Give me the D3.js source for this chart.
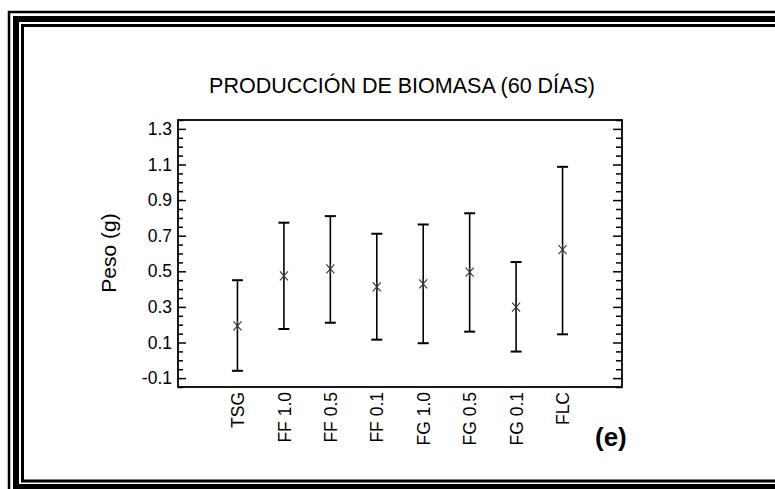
<!DOCTYPE html>
<html>
<head>
<meta charset="utf-8">
<script src="https://cdn.jsdelivr.net/npm/d3@7"></script>
<style>
  body { margin: 0; background: #fff; }
  svg { display: block; font-family: "Liberation Sans", Arial, sans-serif; }
</style>
</head>
<body>
<svg id="chart" width="775" height="489"></svg>
<script>
// data
const categories = ["TSG", "FF 1.0", "FF 0.5", "FF 0.1", "FG 1.0", "FG 0.5", "FG 0.1", "FLC"];
const means = [0.194, 0.474, 0.513, 0.412, 0.429, 0.495, 0.299, 0.622];
const lower = [-0.059, 0.176, 0.211, 0.116, 0.096, 0.161, 0.049, 0.146];
const upper = [0.450, 0.773, 0.810, 0.711, 0.763, 0.826, 0.552, 1.087];
const yTicks = [-0.1, 0.1, 0.3, 0.5, 0.7, 0.9, 1.1, 1.3];

const font = "Liberation Sans, Arial, sans-serif";
const svg = d3.select("#chart");

// triple page frame (open on the right)
svg.append("rect").attr("x", 9).attr("y", 12).attr("width", 900).attr("height", 490)
  .attr("fill", "none").attr("stroke", "#000").attr("stroke-width", 2.5);
svg.append("rect").attr("x", 16).attr("y", 19).attr("width", 900).attr("height", 468)
  .attr("fill", "none").attr("stroke", "#000").attr("stroke-width", 6);
svg.append("rect").attr("x", 22.5).attr("y", 25.5).attr("width", 900).attr("height", 455.5)
  .attr("fill", "none").attr("stroke", "#000").attr("stroke-width", 3);

const plotLeft = 178, plotRight = 622, plotTop = 120, plotBottom = 387;

const x = d3.scalePoint()
  .domain(categories)
  .range([plotLeft, plotRight])
  .padding(1.28);

const y = d3.scaleLinear()
  .domain([-0.15, 1.35])
  .range([plotBottom, plotTop]);

const minorTicks = d3.range(-0.15, 1.351, 0.05)
  .filter(v => !yTicks.some(t => Math.abs(t - v) < 1e-6));

// minor ticks, both sides, pointing inward
svg.append("g")
  .attr("transform", `translate(${plotLeft},0)`)
  .call(d3.axisLeft(y).tickValues(minorTicks).tickSize(-5).tickFormat(""))
  .call(g => g.select(".domain").remove());
svg.append("g")
  .attr("transform", `translate(${plotRight},0)`)
  .call(d3.axisRight(y).tickValues(minorTicks).tickSize(-6).tickFormat(""))
  .call(g => g.select(".domain").remove());

// major ticks
svg.append("g")
  .attr("transform", `translate(${plotLeft},0)`)
  .call(d3.axisLeft(y).tickValues(yTicks).tickSize(-8).tickPadding(6)
    .tickFormat(d => d3.format(".1f")(d).replace("−", "-")))
  .call(g => g.select(".domain").remove())
  .call(g => g.selectAll("text").attr("font-size", 17.5).attr("fill", "#000")
    .attr("font-family", font));
svg.append("g")
  .attr("transform", `translate(${plotRight},0)`)
  .call(d3.axisRight(y).tickValues(yTicks).tickSize(-9).tickFormat(""))
  .call(g => g.select(".domain").remove());

svg.selectAll(".tick line").attr("stroke", "#000").attr("stroke-width", 1.5);

// plot box
svg.append("rect")
  .attr("x", plotLeft).attr("y", plotTop)
  .attr("width", plotRight - plotLeft).attr("height", plotBottom - plotTop)
  .attr("fill", "none").attr("stroke", "#000").attr("stroke-width", 1.8);

// x labels, vertical
svg.append("g")
  .attr("transform", `translate(0,${plotBottom})`)
  .call(d3.axisBottom(x).tickSize(0).tickPadding(0))
  .call(g => g.select(".domain").remove())
  .call(g => g.selectAll("text")
    .attr("font-size", 17.5)
    .attr("fill", "#000")
    .attr("font-family", font)
    .attr("text-anchor", "end")
    .attr("transform", "rotate(-90)")
    .attr("x", -5)
    .attr("y", 0)
    .attr("dy", "0.35em"));

// error bars
const bars = svg.append("g").selectAll("g")
  .data(categories)
  .join("g");

bars.append("line")
  .attr("x1", d => x(d)).attr("x2", d => x(d))
  .attr("y1", (d, i) => y(lower[i])).attr("y2", (d, i) => y(upper[i]))
  .attr("stroke", "#000").attr("stroke-width", 1.6);
bars.append("line")
  .attr("x1", d => x(d) - 5.5).attr("x2", d => x(d) + 5.5)
  .attr("y1", (d, i) => y(upper[i])).attr("y2", (d, i) => y(upper[i]))
  .attr("stroke", "#000").attr("stroke-width", 2);
bars.append("line")
  .attr("x1", d => x(d) - 5.5).attr("x2", d => x(d) + 5.5)
  .attr("y1", (d, i) => y(lower[i])).attr("y2", (d, i) => y(lower[i]))
  .attr("stroke", "#000").attr("stroke-width", 2);

// asterisk markers
bars.append("path")
  .attr("transform", (d, i) => `translate(${x(d)},${y(means[i])})`)
  .attr("d", "M-4,-4.5L4,4.5M-4,4.5L4,-4.5M0,-5L0,5")
  .attr("stroke", "#333").attr("stroke-width", 1.1).attr("fill", "none");

// titles
svg.append("text")
  .attr("x", 402).attr("y", 93)
  .attr("text-anchor", "middle")
  .attr("font-size", 21.5)
  .text("PRODUCCIÓN DE BIOMASA (60 DÍAS)");

svg.append("text")
  .attr("transform", "translate(116,253) rotate(-90)")
  .attr("text-anchor", "middle")
  .attr("font-size", 21)
  .text("Peso (g)");

svg.append("text")
  .attr("x", 595).attr("y", 446)
  .attr("font-size", 26)
  .attr("font-weight", "bold")
  .text("(e)");
</script>
</body>
</html>
